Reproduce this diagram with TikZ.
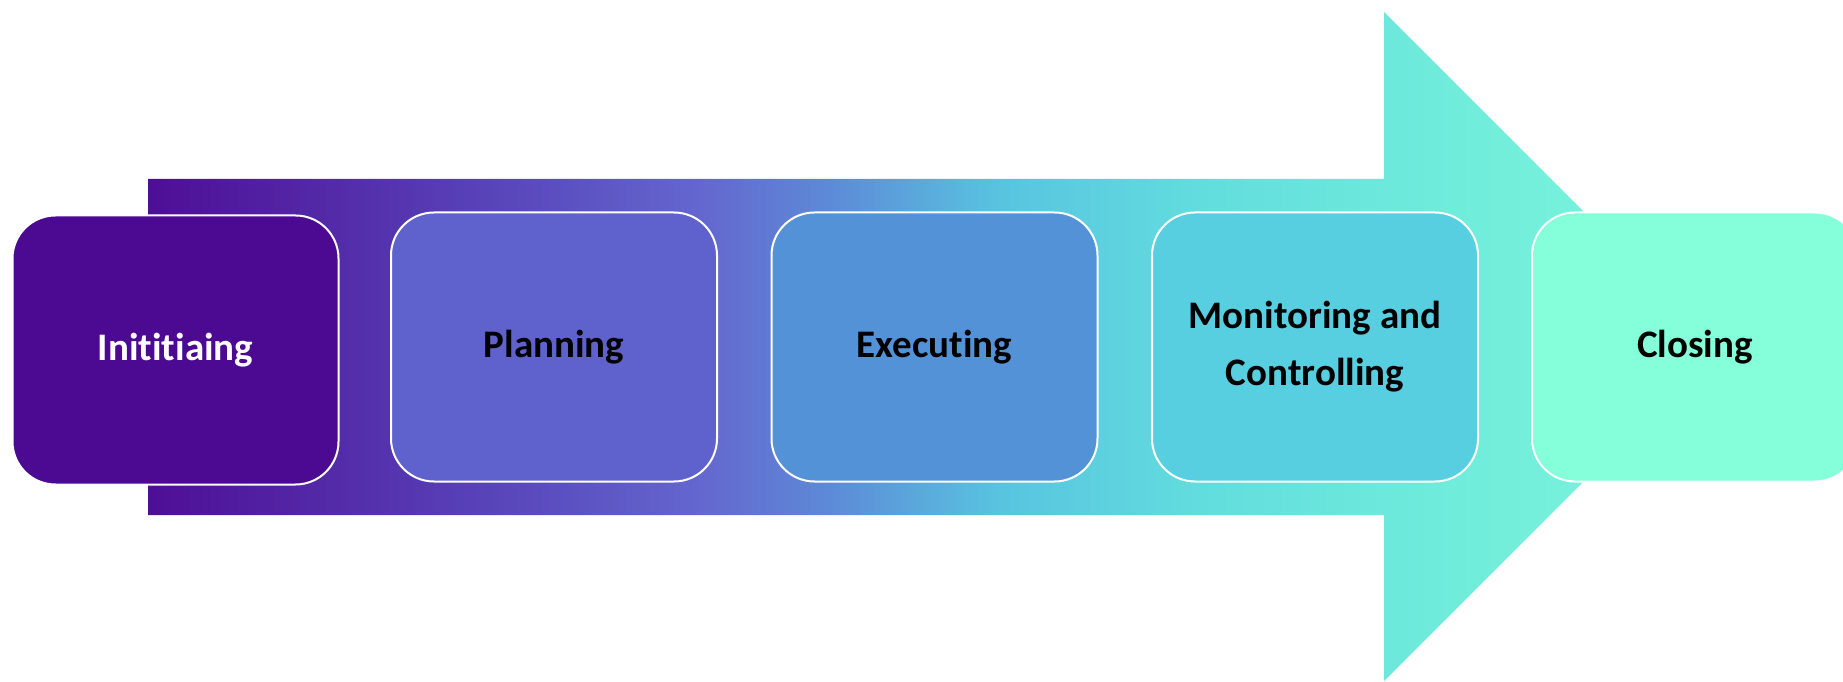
\documentclass[tikz,border=0pt]{standalone}
\usepackage{fontspec}
\setmainfont{Carlito}[Ligatures=NoCommon]

% colours of the phases
\definecolor{initc}{RGB}{76,10,146}
\definecolor{planc}{RGB}{95,98,204}
\definecolor{execc}{RGB}{84,146,216}
\definecolor{monc}{RGB}{87,207,224}
\definecolor{closc}{RGB}{132,255,218}

% shading along the big arrow
\pgfdeclarehorizontalshading{flow}{100bp}{%
  color(0bp)=(rgb,255:red,78;green,14;blue,150);
  color(25bp)=(rgb,255:red,78;green,14;blue,150);
  color(33bp)=(rgb,255:red,85;green,53;blue,176);
  color(38bp)=(rgb,255:red,91;green,79;blue,192);
  color(42.6bp)=(rgb,255:red,100;green,103;blue,207);
  color(46.7bp)=(rgb,255:red,93;green,138;blue,215);
  color(52.1bp)=(rgb,255:red,88;green,196;blue,224);
  color(58.5bp)=(rgb,255:red,98;green,221;blue,222);
  color(66.5bp)=(rgb,255:red,112;green,236;blue,219);
  color(75bp)=(rgb,255:red,123;green,246;blue,218);
  color(100bp)=(rgb,255:red,123;green,246;blue,218)}

\begin{document}
\begin{tikzpicture}[x=0.5pt,y=0.5pt]
\tikzset{
  phase/.style={draw=white, line width=1pt, rounded corners=21.5pt,
    minimum width=163pt, minimum height=134.5pt, inner sep=0pt,
    align=center, text=black, font=\bfseries\fontsize{19.5}{28.5}\selectfont}
}
	\useasboundingbox (0,0) rectangle (1843,681);
	\clip (0,0) rectangle (1843,681);

	%Pfeil im Hintergrund
	\path[shading=flow] (148,166) -- (148,502) -- (1384,502) -- (1384,669)
		-- (1718.5,334.5) -- (1384,0) -- (1384,166) -- cycle;

	%Phasen
	\node[phase, fill=initc, text=white] (init) at (175.5,331) {Inititiaing};
	\node[phase, fill=planc] (plan) at (554,334) {Planning};
	\node[phase, fill=execc] (exec) at (934.5,334) {Executing};
	\node[phase, fill=monc] (mon) at (1315,334) {Monitoring and\\Controlling};
	\node[phase, fill=closc] (clos) at (1695,334) {Closing};

\end{tikzpicture}
\end{document}
